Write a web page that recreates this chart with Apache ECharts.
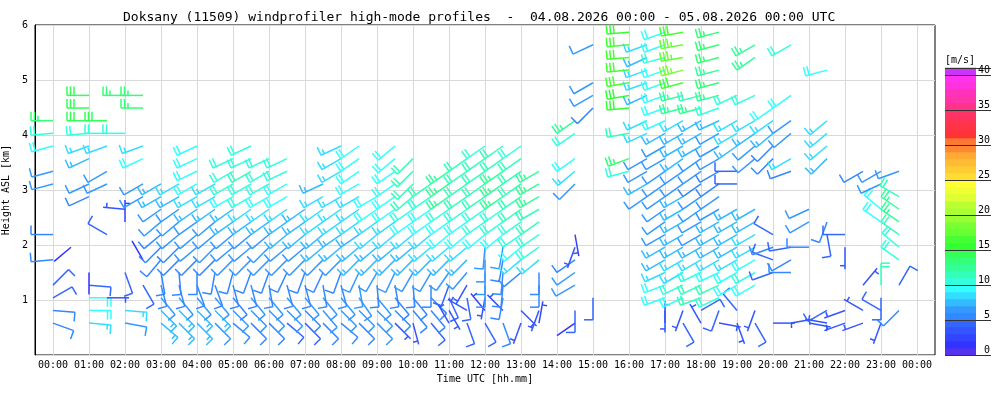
<!DOCTYPE html>
<html>
<head>
<meta charset="utf-8">
<script src="https://cdn.jsdelivr.net/npm/echarts@6/dist/echarts.min.js"></script>
<style>
html, body { margin: 0; padding: 0; background: #fff; }
#chart { width: 1000px; height: 400px; }
</style>
</head>
<body>
<div id="chart"></div>
<script>
var _ = null;

// profile times (UTC) and range gates (km ASL)
var times = ['00:00','00:30','01:00','01:30','02:00','02:30','03:00','03:30','04:00','04:30','05:00','05:30',
	'06:00','06:30','07:00','07:30','08:00','08:30','09:00','09:30','10:00','10:30','11:00','11:30',
	'12:00','12:30','13:00','13:30','14:00','14:30','15:00','15:30','16:00','16:30','17:00','17:30',
	'18:00','18:30','19:00','19:30','20:00','20:30','21:00','21:30','22:00','22:30','23:00','23:30'];
var heights = [0.35, 0.58, 0.81, 1.04, 1.27, 1.50, 1.73, 1.96, 2.19, 2.42, 2.65, 2.88, 3.11,
	3.34, 3.57, 3.80, 4.03, 4.26, 4.49, 4.72, 4.95, 5.18, 5.41, 5.64, 5.87];

// wind speed [m/s], one row per profile, one column per gate
var speeds = [
	[_,5,5,4,4, _,5,_,5,_, _,_,6,6,_, 9,10,13],
	[_,_,_,_,_, _,_,1],
	[_,8,9,9,4, 1,_,_,_,_, _,5,6,_,7, 8,10,14,14,14],
	[_,_,_,3,_, _,_,_,4,_, _,_,6,6,_, 8,10,14],
	[_,6,8,_,_, 4,_,_,_,2, 3,_,_,_,_, _,10,_,_,13],
	[_,_,_,_,4, _,1,_,_,_, _,6,6,_,9, 8,_,_,13,13],
	[_,7,7,6,5, 5,5,5,5,6, 6,7,7],
	[_,7,7,6,5, 5,5,5,6,6, 6,7,8],
	[_,7,7,6,5, 5,5,6,6,6, 7,8,9,9,9, 9],
	[_,6,7,6,5, 5,5,6,6,6, 7,8,8],
	[_,5,6,5,5, 5,6,6,6,7, 7,9,10,10,10],
	[_,5,6,6,5, 5,6,6,6,7, 8,10,10,11,10, 10],
	[_,5,6,6,5, 5,6,6,6,7, 8,9,10,10,10],
	[_,4,6,6,5, 5,6,6,7,7, 8,9,9,10,10],
	[_,4,5,6,5, 5,6,6,7,7, 7],
	[_,5,6,6,5, 5,6,7,7,8, 8,8,7],
	[_,5,6,6,5, 5,6,7,7,8, 8,8,_,8,8, 8],
	[_,5,6,6,6, 6,7,7,7,8, 8,8,9,9,9, 9],
	[_,6,6,6,5, 6,7,7,8,8, 9,9],
	[_,3,5,5,5, 6,7,7,8,8, 9,9,9,9,9, 9],
	[_,3,5,5,5, 6,7,7,8,9, 10,11,11,11,11],
	[_,4,5,5,5, 6,7,8,8,9, 9,10,11],
	[_,3,3,4,4, 6,7,8,9,9, 10,12,12,12],
	[_,4,3,4,3, 6,7,8,9,9, 10,11,11,11,11],
	[_,4,2,3,6, 6,6,6,9,10, 10,11,11,11,11, 10],
	[_,5,3,5,5, 5,5,6,9,10, 10,12,12,12,11, 11],
	[_,3,3,_,_, 5,8,9,10,10, 11,11,11,11,11, 10],
	[_,2,3,_,5, 5,8,10,10,11, 11,12,12,12],
	[],
	[_,1,4,_,6, 6,5,3,2,_, _,_,6,8,9, _,10,12],
	[_,_,_,4,_, _,_,_,_,_, _,_,_,_,_, _,_,_,5,6, 6,_,_,6],
	[],
	[_,_,_,_,_, _,_,_,_,_, _,_,_,10,13, _,11,_,15,15, 16,16,16,16,15],
	[_,_,_,_,_, _,_,_,_,_, _,6,7,6,6, _,8,8,_,7, 8,8,7,8],
	[_,3,3,9,9, 8,7,7,6,6, 6,6,6,6,6, 6,7,9,9,9, 9,9,10,9,9],
	[_,4,3,9,10, 8,8,7,7,7, 7,7,6,6,7, 7,7,8,12,12, 16,18,17,17,16],
	[_,3,4,11,11, 10,8,7,6,6, 6,6,5,6,6, 7,7,7,12,11],
	[_,3,4,10,11, 9,8,7,7,7, 6,6,5,5,6, 6,6,7,10,12, 13,12,13,13,13],
	[_,3,4,_,9, 9,8,7,7,7, 7,_,4,4,_, 7,8,8,_,10],
	[_,4,3,_,9, 10,9,8,8,7, 7,_,_,_,6, 6,7,8,_,10, _,_,12,12],
	[_,3,_,_,_, 4,4,5,4,_, _,_,_,_,5, 5,7,8,9],
	[_,3,_,_,_, 5,5,4,_,_, _,_,_,5,8, _,6,6,_,9, _,_,_,10],
	[_,3,_,_,_, _,_,5,_,6, 6],
	[_,3,4,_,_, _,_,_,4,5, _,_,_,_,7, 8,8,8,_,_, _,9],
	[_,3,3,_,_, _,_,3,4],
	[_,3,3,_,3, _,_,_,_,_, _,_,_,5],
	[_,3,4,4,11, _,_,_,_,9, 9,_,6,6],
	[_,_,5,_,4, _,10,10,11,12, 12,11,_,6]
];

// wind direction [deg, from], same layout as speeds
var dirs = [
	[_,110,95,60,45, _,265,_,270,_, _,_,255,255,_, 255,265,270],
	[_,_,_,_,_, _,_,230],
	[_,95,90,90,95, 180,_,_,_,_, _,245,245,_,245, 250,265,270,270,270],
	[_,_,_,90,_, _,_,_,300,_, _,_,245,240,_, 250,270,270],
	[_,100,95,_,_, 160,_,_,_,0, 275,_,_,_,_, _,270,_,_,270],
	[_,_,_,_,150, _,330,_,_,_, _,240,240,_,245, 250,_,_,270,270],
	[_,130,135,140,165, 170,220,225,230,230, 235,240,240],
	[_,135,135,140,165, 175,225,225,230,230, 235,240,240],
	[_,135,135,140,160, 180,225,230,230,235, 235,240,240,245,245, 245],
	[_,135,135,140,160, 190,225,225,230,230, 235,240,240],
	[_,130,135,140,165, 195,225,230,230,235, 235,240,240,240,245],
	[_,135,135,140,165, 200,225,230,230,235, 235,240,240,240,245, 245],
	[_,135,135,140,170, 200,225,225,230,235, 235,240,240,240,245],
	[_,130,135,140,165, 205,225,230,230,235, 235,240,240,245,245],
	[_,135,135,140,165, 200,225,230,230,235, 235],
	[_,135,140,140,170, 205,225,230,230,235, 235,240,245],
	[_,130,135,140,165, 200,225,230,235,235, 235,240,_,240,240, 245],
	[_,135,135,145,170, 205,225,230,235,235, 235,240,240,235,235, 235],
	[_,135,135,140,175, 210,225,230,230,235, 235,240],
	[_,135,135,140,170, 205,225,230,230,235, 235,235,235,235,230, 230],
	[_,165,140,140,175, 210,225,230,230,235, 235,230,225,225,225],
	[_,140,140,135,180, 210,225,230,230,235, 235,235,235],
	[_,330,150,155,200, 215,225,230,230,235, 235,235,235,235],
	[_,160,300,170,210, 220,225,230,230,235, 235,235,235,235,235],
	[_,150,320,190,180, 180,180,185,230,235, 235,235,235,235,235, 235],
	[_,160,315,190,185, 185,190,190,230,235, 235,235,235,235,235, 235],
	[_,200,135,_,_, 230,230,230,235,235, 235,235,235,235,235, 235],
	[_,10,200,_,180, 180,230,235,235,235, 240,240,240,240],
	[],
	[_,235,180,_,240, 235,235,200,170,_, _,_,225,230,235, _,235,235],
	[_,_,_,180,_, _,_,_,_,_, _,_,_,_,_, _,_,_,225,240, 240,_,_,245],
	[],
	[_,_,_,_,_, _,_,_,_,_, _,_,_,255,250, _,260,_,265,260, 260,265,265,265,265],
	[_,_,_,_,_, _,_,_,_,_, _,235,240,240,240, _,245,245,_,245, 250,250,245,250],
	[_,0,180,250,250, 245,240,240,240,235, 235,235,235,235,240, 240,240,245,250,250, 250,250,255,250,250],
	[_,150,200,245,245, 240,240,240,240,240, 240,240,235,235,235, 240,240,240,255,255, 255,255,260,260,260],
	[_,330,60,250,245, 245,240,240,240,240, 235,235,235,235,235, 240,240,240,255,255],
	[_,100,200,245,245, 245,240,240,240,240, 240,235,235,240,240, 240,240,245,250,255, 255,255,255,255,255],
	[_,160,320,_,240, 240,240,240,240,240, 240,_,270,270,_, 235,240,240,_,245],
	[_,150,200,_,240, 240,240,240,240,240, 240,_,_,_,230, 230,235,240,_,245, _,_,235,240],
	[_,90,_,_,_, 250,290,250,300,_, _,_,_,_,225, 225,230,235,235],
	[_,80,_,_,_, 270,240,260,_,_, _,_,_,250,240, _,230,235,_,235, _,_,_,240],
	[_,100,_,_,_, _,_,270,_,240, 245],
	[_,280,240,_,_, _,_,_,170,200, _,_,_,_,225, 230,230,230,_,_, _,255],
	[_,250,250,_,_, _,_,180,270],
	[_,250,300,_,40, _,_,_,_,_, _,_,_,240],
	[_,200,300,180,0, _,_,_,_,305, 310,_,245,240],
	[_,_,225,_,30, _,305,310,305,305, 305,300,_,250]
];

// colour scale, 1 m/s steps from 0 to 41
var speedColors = ['#5533ee','#3333ff','#3344ff','#3355ff','#3366ff','#3388ff','#3399ff','#33bbff','#33ddff','#33ffff',
	'#33ffdd','#33ffbb','#33ff99','#33ff77','#33ff55','#33ff33','#44ff33','#66ff33','#77ff33','#99ff33',
	'#aaff33','#bbff33','#ddff33','#eeff33','#ffff33','#ffdd33','#ffcc33','#ffbb33','#ffaa33','#ff8833',
	'#ff7733','#ff3333','#ff3344','#ff3355','#ff3366','#ff3388','#ff33aa','#ff33bb','#ff33dd','#ff33ee','#cc33ff'];

var barbData = [];
times.forEach(function(t, i) {
	var hr = parseInt(t.slice(0, 2), 10) + parseInt(t.slice(3), 10) / 60;
	heights.forEach(function(h, j) {
		var s = speeds[i][j];
		if (s == null) return;
		barbData.push([hr, h, s, dirs[i][j]]);
	});
});
var bandData = speedColors.map(function(c, i) { return [i]; });

var mono = 'DejaVu Sans Mono';

function colorFor(s) {
	return speedColors[Math.max(0, Math.min(40, Math.floor(s)))];
}

// staff points to where the wind comes from, feathers at the far end
function renderBarb(params, api) {
	var p = api.coord([api.value(0), api.value(1)]);
	var spd = api.value(2);
	var a = api.value(3) * Math.PI / 180;
	var sx = Math.sin(a), sy = -Math.cos(a);
	var bx = -sy, by = sx;
	var L = 22, B = 9, gap = 3.5;
	var tip = [p[0] + sx * L, p[1] + sy * L];
	var style = { stroke: colorFor(spd), lineWidth: 1.5 };
	var kids = [{ type: 'line', shape: { x1: p[0], y1: p[1], x2: tip[0], y2: tip[1] }, style: style }];
	var units = Math.round(spd / 2.5);
	var full = Math.floor(units / 2), half = units % 2;
	var k;
	for (k = 0; k < full; k++) {
		var ox = tip[0] - sx * gap * k, oy = tip[1] - sy * gap * k;
		kids.push({ type: 'line', shape: { x1: ox, y1: oy, x2: ox + bx * B, y2: oy + by * B }, style: style });
	}
	if (half) {
		var pos = full === 0 ? 1 : k;
		var hx = tip[0] - sx * gap * pos, hy = tip[1] - sy * gap * pos;
		kids.push({ type: 'line', shape: { x1: hx, y1: hy, x2: hx + bx * B * 0.55, y2: hy + by * B * 0.55 }, style: style });
	}
	return { type: 'group', children: kids };
}

function renderBand(params, api) {
	var v = api.value(0);
	var p0 = api.coord([0, v]);
	var p1 = api.coord([1, v + 1]);
	return {
		type: 'rect',
		shape: { x: p0[0], y: p1[1] - 0.3, width: p1[0] - p0[0], height: p0[1] - p1[1] + 0.6 },
		style: { fill: speedColors[v] }
	};
}

var chart = echarts.init(document.getElementById('chart'));
var option = {
	animation: false,
	backgroundColor: '#fff',
	title: {
		text: 'Doksany (11509) windprofiler high-mode profiles  -  04.08.2026 00:00 - 05.08.2026 00:00 UTC',
		left: 118,
		top: 6,
		textStyle: { fontFamily: mono, fontSize: 13, fontWeight: 'normal', color: '#000' }
	},
	graphic: [{
		type: 'text', left: 945, top: 55,
		style: { text: '[m/s]', fontFamily: mono, fontSize: 10, fill: '#000' }
	}],
	grid: [
		{ left: 35, right: 65, top: 25, bottom: 45, containLabel: false, outerBoundsMode: 'none',
			show: true, borderColor: '#000', borderWidth: 1 },
		{ left: 53, right: 83, top: 25, bottom: 45, containLabel: false, outerBoundsMode: 'none' },
		{ left: 945, width: 46, top: 68, bottom: 45, containLabel: false, outerBoundsMode: 'none' }
	],
	xAxis: [{
		gridIndex: 0, type: 'value', min: -0.5, max: 24.5, show: false
	}, {
		gridIndex: 1, type: 'value', min: 0, max: 24, interval: 1,
		name: 'Time UTC [hh.mm]', nameLocation: 'middle', nameGap: 18,
		nameTextStyle: { fontFamily: mono, fontSize: 10, color: '#000' },
		axisLine: { show: false },
		axisTick: { show: false },
		axisLabel: {
			margin: 5, fontFamily: mono, fontSize: 10, color: '#000',
			formatter: function(v) { var h = v % 24; return (h < 10 ? '0' : '') + h + ':00'; }
		},
		splitLine: { show: true, lineStyle: { color: '#d9d9d9', width: 1 } }
	}, {
		gridIndex: 2, type: 'value', min: 0, max: 1.484, show: false
	}],
	yAxis: [{
		gridIndex: 0, type: 'value', min: 0, max: 6, interval: 1,
		name: 'Height ASL [km]', nameLocation: 'middle', nameGap: 22,
		nameTextStyle: { fontFamily: mono, fontSize: 10, color: '#000' },
		axisLine: { show: true, onZero: false, lineStyle: { color: '#000' } },
		axisTick: { show: false },
		axisLabel: { showMinLabel: false, margin: 7, fontFamily: mono, fontSize: 10, color: '#000' },
		splitLine: { show: true, lineStyle: { color: '#d9d9d9', width: 1 } }
	}, {
		gridIndex: 1, type: 'value', min: 0, max: 6, show: false
	}, {
		gridIndex: 2, type: 'value', min: 0, max: 41, interval: 5, position: 'right', z: 10,
		axisLine: { show: false },
		axisTick: { show: false },
		axisLabel: {
			inside: true, margin: 1, showMaxLabel: false, verticalAlign: 'bottom',
			fontFamily: mono, fontSize: 10, color: '#000'
		},
		splitLine: { show: true, lineStyle: { color: '#333', width: 1.2 } }
	}],
	series: [{
		type: 'custom',
		name: 'wind',
		xAxisIndex: 0,
		yAxisIndex: 0,
		dimensions: ['time', 'height', 'speed', 'dir'],
		encode: { x: 0, y: 1 },
		renderItem: renderBarb,
		data: barbData
	}, {
		type: 'custom',
		name: 'scale',
		xAxisIndex: 2,
		yAxisIndex: 2,
		encode: { y: 0 },
		renderItem: renderBand,
		data: bandData
	}]
};
chart.setOption(option);
</script>
</body>
</html>
